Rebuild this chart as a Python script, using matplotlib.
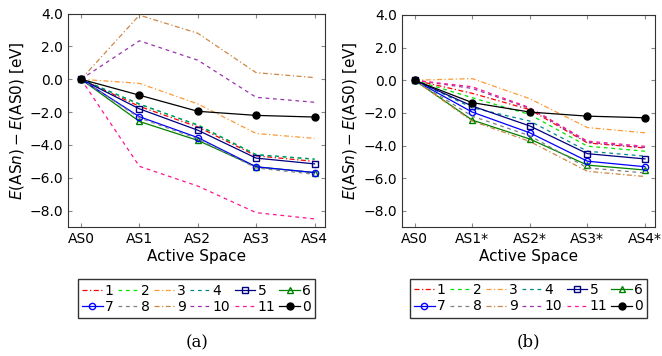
import numpy as np
import matplotlib
matplotlib.use('Agg')
import matplotlib.pyplot as plt

plt.rcParams['font.family'] = ['DejaVu Sans']
plt.rcParams['mathtext.fontset'] = 'dejavusans'

labels = ['1', '2', '3', '4', '5', '6', '7', '8', '9', '10', '11', '0']
ticks_a = ['AS0', 'AS1', 'AS2', 'AS3', 'AS4']
ticks_b = ['AS0', 'AS1*', 'AS2*', 'AS3*', 'AS4*']

# energies relative to AS0, eV (order = labels)
data_a = [
    [0.0, -1.65, -2.90, -4.66, -5.00],   # 1
    [0.0, -1.53, -2.77, -4.58, -4.88],   # 2
    [0.0, -0.25, -1.50, -3.30, -3.60],   # 3
    [0.0, -1.50, -2.80, -4.60, -4.85],   # 4
    [0.0, -1.80, -3.10, -4.80, -5.15],   # 5
    [0.0, -2.57, -3.72, -5.33, -5.68],   # 6
    [0.0, -2.28, -3.55, -5.33, -5.68],   # 7
    [0.0, -2.35, -3.62, -5.40, -5.78],   # 8
    [0.0, 3.90, 2.80, 0.40, 0.10],       # 9
    [0.0, 2.34, 1.16, -1.10, -1.40],     # 10
    [0.0, -5.30, -6.50, -8.12, -8.50],   # 11
    [0.0, -0.97, -1.95, -2.20, -2.30],   # 0
]
data_b = [
    [0.0, -0.80, -1.80, -3.84, -4.15],   # 1
    [0.0, -1.07, -2.10, -4.04, -4.35],   # 2
    [0.0, 0.10, -1.13, -2.90, -3.22],    # 3
    [0.0, -1.68, -2.50, -4.35, -4.65],   # 4
    [0.0, -1.58, -2.80, -4.50, -4.82],   # 5
    [0.0, -2.44, -3.60, -5.20, -5.50],   # 6
    [0.0, -1.95, -3.22, -4.96, -5.30],   # 7
    [0.0, -2.20, -3.40, -5.37, -5.68],   # 8
    [0.0, -2.50, -3.75, -5.58, -5.90],   # 9
    [0.0, -0.50, -1.72, -3.80, -4.12],   # 10
    [0.0, -0.40, -1.68, -3.73, -4.05],   # 11
    [0.0, -1.37, -1.95, -2.20, -2.30],   # 0
]

dd = (0, (4, 2, 1, 2))
dsh = (0, (3, 3))
styles = [
    dict(color='#ff0000', ls=dd),
    dict(color='#00e600', ls=dsh),
    dict(color='#ff9933', ls=dd),
    dict(color='#008b8b', ls=dsh),
    dict(color='#000080', ls='-', marker='s', mfc='none', ms=4.5),
    dict(color='#008000', ls='-', marker='^', mfc='none', ms=4),
    dict(color='#0000ff', ls='-', marker='o', mfc='none', ms=4.5),
    dict(color='#808080', ls=dsh),
    dict(color='#cc8844', ls=dd),
    dict(color='#9933aa', ls=dsh),
    dict(color='#ff1493', ls=dsh),
    dict(color='black', ls='-', marker='o', ms=5),
]

fig = plt.figure(figsize=(6.62, 3.56), dpi=100)
ax_a = fig.add_axes([0.103, 0.362, 0.388, 0.600])
ax_b = fig.add_axes([0.607, 0.362, 0.383, 0.596])

order = [0, 6, 1, 7, 2, 8, 3, 9, 4, 10, 5, 11]

for ax, data, ticks, cap in [(ax_a, data_a, ticks_a, '(a)'), (ax_b, data_b, ticks_b, '(b)')]:
    x = np.arange(len(ticks))
    lines = []
    for lab, vals, st in zip(labels, data, styles):
        ln, = ax.plot(x, vals, lw=0.9, label=lab, **st)
        lines.append(ln)
    ax.set_xlim(-0.22, 4.18)
    ax.set_ylim(-9, 4)
    ax.set_xticks(x)
    ax.set_xticklabels(ticks)
    ax.set_yticks([4, 2, 0, -2, -4, -6, -8])
    ax.set_yticklabels(['%.1f' % v if v >= 0 else '\u2212%.1f' % -v for v in [4, 2, 0, -2, -4, -6, -8]])
    ax.tick_params(direction='in', top=True, right=True, length=3, color='#888888', labelsize=10)
    ax.set_xlabel('Active Space', fontsize=11, labelpad=2)
    ax.set_ylabel(r'$E(\mathrm{AS}n) - E(\mathrm{AS0})$ [eV]', fontsize=11, labelpad=3)
    for sp in ax.spines.values():
        sp.set_linewidth(0.8)
        sp.set_color('#333333')
    ax.legend([lines[i] for i in order], [labels[i] for i in order], ncol=6,
              loc='upper center', bbox_to_anchor=(0.5, -0.245), fontsize=10,
              frameon=True, fancybox=False, edgecolor='black', handlelength=1.5,
              handletextpad=0.15, columnspacing=0.3, labelspacing=0.15,
              borderpad=0.3, borderaxespad=0)
    ax.text(0.5, -0.54, cap, transform=ax.transAxes, ha='center', va='center',
            fontsize=12, family='DejaVu Serif')

fig.savefig('out.png', dpi=100)
